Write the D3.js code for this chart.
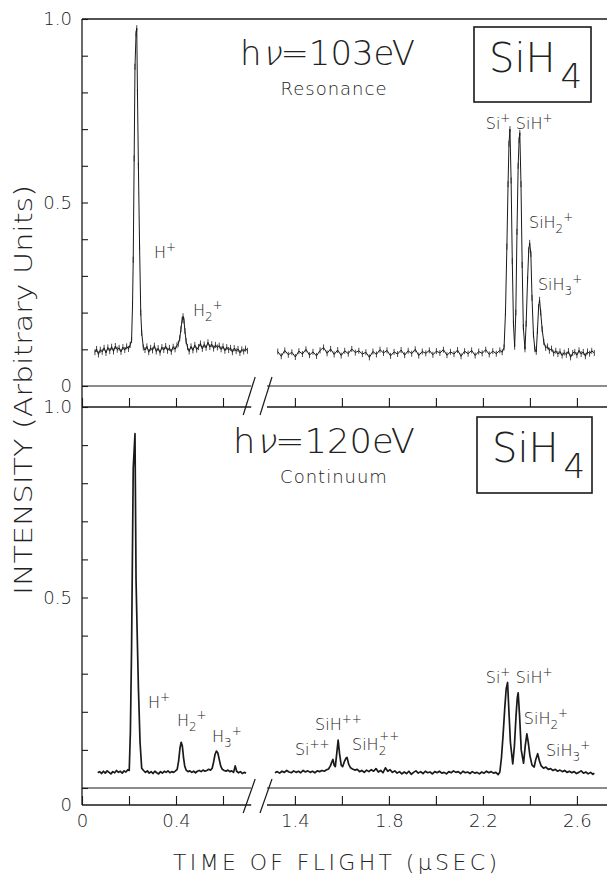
<!DOCTYPE html>
<html>
<head>
<meta charset="utf-8">
<script src="https://cdn.jsdelivr.net/npm/d3@7"></script>
<style>
  body { margin: 0; background: #fff; }
  svg { display: block; }
  text { font-family: "DejaVu Sans ExtraLight", "DejaVu Sans Light", "DejaVu Sans", sans-serif; font-weight: 200; fill: #222; }
</style>
</head>
<body>
<svg id="chart" width="607" height="876"></svg>
<script>
// [time (usec), intensity], one trace per panel half
const topLowTrace = [
  [0.055,0.092],[0.062,0.101],[0.070,0.086],[0.078,0.099],[0.086,0.093],[0.094,0.104],[0.102,0.090],[0.110,0.105],
  [0.118,0.095],[0.126,0.107],[0.134,0.094],[0.142,0.109],[0.150,0.099],[0.158,0.104],[0.166,0.093],[0.174,0.106],
  [0.182,0.098],[0.190,0.108],[0.198,0.101],[0.205,0.112],[0.211,0.125],[0.215,0.22],[0.218,0.344],[0.222,0.62],
  [0.2255,0.87],[0.230,0.96],[0.233,0.975],[0.236,0.80],[0.240,0.60],[0.245,0.38],[0.250,0.20],[0.254,0.145],
  [0.261,0.105],[0.268,0.098],[0.276,0.108],[0.284,0.092],[0.292,0.104],[0.300,0.097],[0.308,0.110],[0.316,0.094],
  [0.324,0.103],[0.332,0.091],[0.340,0.106],[0.348,0.098],[0.356,0.109],[0.364,0.096],[0.372,0.104],[0.380,0.093],
  [0.388,0.107],[0.396,0.100],[0.404,0.111],[0.410,0.115],[0.416,0.13],[0.421,0.155],[0.426,0.18],[0.430,0.19],
  [0.434,0.178],[0.438,0.15],[0.443,0.122],[0.449,0.106],[0.456,0.094],[0.464,0.108],[0.472,0.097],[0.480,0.112],
  [0.488,0.099],[0.496,0.106],[0.504,0.116],[0.512,0.101],[0.520,0.113],[0.528,0.104],[0.536,0.119],[0.544,0.106],
  [0.552,0.114],[0.560,0.102],[0.568,0.112],[0.576,0.105],[0.584,0.110],[0.592,0.100],[0.600,0.108],[0.608,0.096],
  [0.616,0.106],[0.624,0.098],[0.632,0.104],[0.640,0.092],[0.648,0.103],[0.656,0.095],[0.664,0.101],[0.672,0.090],
  [0.680,0.100],[0.688,0.094],[0.696,0.102],[0.704,0.096]
];
const topHighTrace = [
  [1.327,.094],[1.342,.081],[1.357,.097],[1.372,.085],[1.387,.092],[1.402,.079],[1.417,.095],[1.432,.087],
  [1.447,.100],[1.462,.084],[1.477,.093],[1.492,.082],[1.507,.097],[1.522,.105],[1.537,.089],[1.552,.101],
  [1.567,.086],[1.582,.098],[1.597,.083],[1.612,.096],[1.627,.088],[1.642,.101],[1.657,.091],[1.672,.096],
  [1.687,.087],[1.702,.092],[1.717,.078],[1.732,.094],[1.747,.086],[1.762,.099],[1.777,.090],[1.792,.097],
  [1.807,.082],[1.822,.093],[1.837,.087],[1.852,.098],[1.867,.084],[1.882,.096],[1.897,.088],[1.912,.100],
  [1.927,.083],[1.942,.094],[1.957,.089],[1.972,.097],[1.987,.085],[2.002,.095],[2.017,.090],[2.032,.099],
  [2.047,.084],[2.062,.093],[2.077,.087],[2.092,.098],[2.107,.081],[2.122,.095],[2.137,.088],[2.152,.097],
  [2.167,.083],[2.182,.094],[2.197,.089],[2.212,.099],[2.227,.086],[2.242,.095],[2.257,.088],[2.272,.097],
  [2.282,.092],[2.290,.105],[2.296,.20],[2.302,.38],[2.307,.55],[2.311,.66],[2.315,.70],[2.320,.56],
  [2.325,.34],[2.330,.17],[2.335,.107],[2.340,.20],[2.345,.42],[2.350,.60],[2.354,.67],[2.357,.69],
  [2.362,.55],[2.367,.33],[2.372,.16],[2.379,.10],[2.384,.17],[2.390,.29],[2.395,.37],[2.399,.39],
  [2.404,.36],[2.409,.24],[2.415,.14],[2.421,.10],[2.427,.093],[2.432,.15],[2.437,.215],[2.441,.235],
  [2.446,.20],[2.452,.155],[2.459,.12],[2.467,.104],[2.475,.108],[2.483,.096],[2.492,.102],[2.501,.089],
  [2.510,.096],[2.519,.087],[2.528,.094],[2.537,.083],[2.546,.091],[2.555,.085],[2.564,.095],[2.573,.078],
  [2.582,.090],[2.591,.093],[2.600,.084],[2.609,.097],[2.618,.087],[2.627,.093],[2.636,.081],[2.645,.094],
  [2.654,.088],[2.663,.096],[2.674,.090]
];
const botLowTrace = [
  [0.067,.040],[0.075,.043],[0.083,.038],[0.091,.044],[0.099,.039],[0.107,.045],[0.115,.041],[0.123,.037],
  [0.131,.043],[0.139,.040],[0.147,.046],[0.155,.041],[0.163,.044],[0.171,.039],[0.179,.045],[0.187,.042],
  [0.195,.048],[0.201,.046],[0.206,.15],[0.211,.37],[0.218,.84],[0.2255,.93],[0.230,.545],[0.235,.40],
  [0.240,.264],[0.247,.12],[0.254,.052],[0.262,.046],[0.270,.041],[0.278,.045],[0.286,.039],[0.294,.043],
  [0.302,.038],[0.310,.044],[0.318,.040],[0.326,.037],[0.334,.043],[0.342,.039],[0.350,.044],[0.358,.041],
  [0.366,.045],[0.374,.040],[0.382,.043],[0.390,.041],[0.398,.045],[0.405,.049],[0.411,.07],[0.417,.105],
  [0.422,.12],[0.427,.11],[0.432,.08],[0.437,.058],[0.443,.047],[0.451,.043],[0.459,.045],[0.467,.041],
  [0.475,.044],[0.483,.040],[0.491,.044],[0.499,.046],[0.507,.043],[0.515,.047],[0.523,.044],[0.531,.046],
  [0.539,.049],[0.547,.047],[0.554,.052],[0.560,.068],[0.566,.088],[0.572,.097],[0.578,.092],[0.584,.075],
  [0.590,.058],[0.597,.049],[0.605,.046],[0.613,.044],[0.621,.047],[0.629,.043],[0.637,.045],[0.645,.041],
  [0.652,.058],[0.658,.044],[0.666,.040],[0.674,.043],[0.682,.038],[0.690,.041],[0.698,.039]
];
const botHighTrace = [
  [1.315,.040],[1.325,.043],[1.335,.039],[1.345,.044],[1.355,.041],[1.365,.046],[1.375,.042],[1.385,.040],
  [1.395,.045],[1.405,.041],[1.415,.044],[1.425,.040],[1.435,.046],[1.445,.042],[1.455,.045],[1.465,.041],
  [1.475,.044],[1.485,.040],[1.495,.045],[1.505,.043],[1.515,.046],[1.525,.044],[1.535,.048],[1.543,.050],
  [1.551,.058],[1.557,.068],[1.562,.075],[1.567,.060],[1.572,.056],[1.578,.090],[1.584,.126],[1.590,.09],
  [1.597,.060],[1.603,.056],[1.611,.070],[1.617,.078],[1.622,.080],[1.629,.062],[1.637,.053],[1.645,.050],
  [1.655,.047],[1.665,.049],[1.675,.043],
  [1.685,.046],[1.695,.041],[1.705,.047],[1.715,.043],[1.725,.048],[1.735,.044],[1.745,.051],[1.755,.042],
  [1.765,.046],[1.775,.040],[1.785,.053],[1.795,.044],[1.805,.048],[1.815,.041],[1.825,.045],[1.835,.039],
  [1.845,.043],[1.855,.037],[1.865,.042],[1.875,.038],[1.885,.044],[1.895,.036],[1.905,.041],[1.915,.045],
  [1.925,.039],[1.935,.043],[1.945,.038],[1.955,.044],[1.965,.040],[1.975,.042],[1.985,.037],[1.995,.043],
  [2.005,.040],[2.015,.044],[2.025,.039],[2.035,.041],[2.045,.037],[2.055,.043],[2.065,.040],[2.075,.045],
  [2.085,.041],[2.095,.043],[2.105,.038],[2.115,.044],[2.125,.040],[2.135,.042],[2.145,.038],[2.155,.043],
  [2.165,.039],[2.175,.041],[2.185,.037],[2.195,.042],[2.205,.039],[2.215,.044],[2.225,.040],[2.235,.043],
  [2.245,.039],[2.255,.041],[2.265,.035],[2.272,.042],[2.279,.08],[2.286,.14],[2.293,.21],[2.299,.26],
  [2.305,.277],[2.310,.21],[2.317,.12],[2.327,.063],[2.334,.11],[2.341,.19],[2.346,.235],[2.350,.25],
  [2.356,.19],[2.363,.10],[2.373,.065],[2.380,.11],[2.387,.142],[2.393,.12],[2.400,.085],[2.409,.06],
  [2.418,.055],[2.425,.075],[2.433,.09],[2.440,.072],[2.448,.058],[2.458,.052],[2.468,.055],[2.478,.049],
  [2.488,.051],[2.498,.046],[2.508,.049],[2.518,.044],[2.528,.047],[2.538,.043],[2.548,.046],[2.558,.041],
  [2.568,.044],[2.578,.040],[2.588,.043],[2.598,.038],[2.608,.041],[2.618,.045],[2.628,.039],[2.638,.042],
  [2.648,.037],[2.658,.041],[2.668,.036],[2.674,.039]
];

// ion labels, anchored in data units (time, intensity)
const topIons = [
  { base: 'H', sub: '', sup: '+', t: 0.306, v: 0.349 },
  { base: 'H', sub: '2', sup: '+', t: 0.472, v: 0.191 },
  { base: 'Si', sub: '', sup: '+', t: 2.212, v: 0.70 },
  { base: 'SiH', sub: '', sup: '+', t: 2.34, v: 0.70 },
  { base: 'SiH', sub: '2', sup: '+', t: 2.396, v: 0.43 },
  { base: 'SiH', sub: '3', sup: '+', t: 2.434, v: 0.262 }
];
const botIons = [
  { base: 'H', sub: '', sup: '+', t: 0.281, v: 0.21 },
  { base: 'H', sub: '2', sup: '+', t: 0.404, v: 0.163 },
  { base: 'H', sub: '3', sup: '+', t: 0.553, v: 0.121 },
  { base: 'Si', sub: '', sup: '++', t: 1.400, v: 0.087 },
  { base: 'SiH', sub: '', sup: '++', t: 1.486, v: 0.152 },
  { base: 'SiH', sub: '2', sup: '++', t: 1.643, v: 0.100, stack: true },
  { base: 'Si', sub: '', sup: '+', t: 2.212, v: 0.276 },
  { base: 'SiH', sub: '', sup: '+', t: 2.34, v: 0.276 },
  { base: 'SiH', sub: '2', sup: '+', t: 2.374, v: 0.168 },
  { base: 'SiH', sub: '3', sup: '+', t: 2.468, v: 0.084 }
];

const yTicks = d3.range(0, 10.5).map(i => i / 10);
const lowTicks = [0, 0.2, 0.4, 0.6];
const highTicks = [1.4, 1.6, 1.8, 2.0, 2.2, 2.4, 2.6];
const xLabelled = [0, 0.4, 1.4, 1.8, 2.2, 2.6];

const svg = d3.select('#chart');
svg.append('rect').attr('width', 607).attr('height', 876).attr('fill', '#fff');

// broken time axis: two linear pieces with the same scale factor
const xLow = d3.scaleLinear().domain([0, 0.72]).range([82, 251.2]);
const xHigh = d3.scaleLinear().domain([1.26, 2.728]).range([262, 607]);
const yTop = d3.scaleLinear().domain([0, 1]).range([386, 19]);
const yBot = d3.scaleLinear().domain([0, 1]).range([788, 407]);
const plotLeft = 82, plotRight = 607;
const topAxisY = 407, botAxisY = 805;
const ink = '#1a1a1a';

// frame: top edge and left edge
svg.append('line').attr('x1', plotLeft).attr('x2', plotRight).attr('y1', yTop(1)).attr('y2', yTop(1))
  .attr('stroke', ink).attr('stroke-width', 1.3);
svg.append('line').attr('x1', plotLeft).attr('x2', plotLeft).attr('y1', yTop(1)).attr('y2', botAxisY)
  .attr('stroke', ink).attr('stroke-width', 1.3);

// horizontal lines interrupted at the break
function brokenLine(y, w) {
  svg.append('line').attr('x1', plotLeft).attr('x2', xLow.range()[1]).attr('y1', y).attr('y2', y)
    .attr('stroke', ink).attr('stroke-width', w);
  svg.append('line').attr('x1', xHigh.range()[0] + 5).attr('x2', plotRight).attr('y1', y).attr('y2', y)
    .attr('stroke', ink).attr('stroke-width', w);
}
function breakMarks(y1, y2) {
  const a = xLow.range()[1], b = xHigh.range()[0];
  [[a + 4, a - 8], [b + 10, b - 2]].forEach(([xt, xb]) => {
    svg.append('line').attr('x1', xt).attr('y1', y1 - 9).attr('x2', xb).attr('y2', y2 + 8)
      .attr('stroke', ink).attr('stroke-width', 1.2);
  });
}
brokenLine(yTop(0), 1.1);
brokenLine(topAxisY, 1.4);
breakMarks(yTop(0), topAxisY);
brokenLine(yBot(0), 1.1);
brokenLine(botAxisY, 1.4);
breakMarks(yBot(0), botAxisY);

// time ticks, pointing up, on both axis lines
function timeAxis(y, withLabels) {
  const fmt = d => (withLabels && xLabelled.includes(d)) ? (d === 0 ? '0' : d3.format('.1f')(d)) : '';
  [[xLow, lowTicks], [xHigh, highTicks]].forEach(([sc, tv]) => {
    const g = svg.append('g').attr('transform', `translate(0,${y})`)
      .call(d3.axisBottom(sc).tickValues(tv).tickSizeInner(-9).tickSizeOuter(0).tickPadding(9).tickFormat(fmt));
    g.select('.domain').remove();
    g.selectAll('line').attr('stroke', ink).attr('stroke-width', 1.1);
    g.selectAll('text').style('font-size', '18px').attr('dy', '0.71em');
  });
}
timeAxis(topAxisY, false);
timeAxis(botAxisY, true);

// intensity ticks, pointing in
function intensityAxis(sc, labels) {
  const g = svg.append('g').attr('transform', `translate(${plotLeft},0)`)
    .call(d3.axisLeft(sc).tickValues(yTicks).tickSizeInner(-6).tickSizeOuter(0).tickPadding(10)
      .tickFormat(d => labels.includes(d) ? (d === 0 ? '0' : d3.format('.1f')(d)) : ''));
  g.select('.domain').remove();
  g.selectAll('line').attr('stroke', ink).attr('stroke-width', 1.1);
  g.selectAll('text').style('font-size', '18px');
}
intensityAxis(yTop, [0, 0.5, 1]);
intensityAxis(yBot, [0.5, 1]);
svg.append('text').attr('x', plotLeft - 10).attr('y', botAxisY).attr('dy', '0.32em')
  .attr('text-anchor', 'end').style('font-size', '18px').text('0');

// traces
function trace(data, x, y, w) {
  svg.append('path').datum(data)
    .attr('d', d3.line().x(d => x(d[0])).y(d => y(d[1])))
    .attr('fill', 'none').attr('stroke', ink).attr('stroke-width', w).attr('stroke-linejoin', 'round');
}
// the resonance scan carries small counting error bars
function errorBars(data, x, y) {
  svg.append('g').selectAll('line').data(data).join('line')
    .attr('x1', d => x(d[0])).attr('x2', d => x(d[0]))
    .attr('y1', d => y(d[1]) - 3).attr('y2', d => y(d[1]) + 3)
    .attr('stroke', ink).attr('stroke-width', 0.8);
}
trace(topLowTrace, xLow, yTop, 1.0);
trace(topHighTrace, xHigh, yTop, 1.0);
errorBars(topLowTrace, xLow, yTop);
errorBars(topHighTrace, xHigh, yTop);
trace(botLowTrace, xLow, yBot, 1.7);
trace(botHighTrace, xHigh, yBot, 1.7);

// ion labels
function ionLabels(list, y) {
  list.forEach(d => {
    const x = d.t < 1 ? xLow(d.t) : xHigh(d.t);
    const t = svg.append('text').attr('x', x).attr('y', y(d.v)).style('font-size', '16px');
    t.append('tspan').text(d.base);
    let lift = 0;
    if (d.sub) {
      t.append('tspan').attr('dy', 5).style('font-size', '12px').text(d.sub);
      lift = 5;
    }
    t.append('tspan').attr('dy', -(lift + (d.stack ? 10 : 7))).attr('dx', d.stack ? -7 : 0)
      .style('font-size', '12px').text(d.sup);
  });
}
ionLabels(topIons, yTop);
ionLabels(botIons, yBot);

// photon energy captions and molecule boxes
function caption(energy, regime, yMain, ySub, xMain) {
  const t = svg.append('text').attr('x', xMain).attr('y', yMain).style('font-size', '34px')
    .attr('textLength', 415 - xMain).attr('lengthAdjust', 'spacingAndGlyphs');
  t.append('tspan').text('h');
  t.append('tspan').style('font-style', 'italic').text('\u03BD');
  t.append('tspan').text(`=${energy}eV`);
  svg.append('text').attr('x', 334).attr('y', ySub).attr('text-anchor', 'middle').style('font-size', '18px')
    .attr('letter-spacing', 1).text(regime);
}
caption(103, 'Resonance', 65, 95, 240);
caption(120, 'Continuum', 453, 483, 233);

function moleculeBox(x0, y0, x1, y1) {
  svg.append('rect').attr('x', x0).attr('y', y0).attr('width', x1 - x0).attr('height', y1 - y0)
    .attr('fill', 'none').attr('stroke', ink).attr('stroke-width', 1.6);
  const t = svg.append('text').attr('x', x0 + 15).attr('y', y0 + 45).style('font-size', '40px');
  t.append('tspan').text('SiH');
  t.append('tspan').attr('dx', 5).attr('dy', 16).style('font-size', '34px').text('4');
}
moleculeBox(474, 27, 591, 102);
moleculeBox(477, 417, 592, 493);

// axis titles
svg.append('text').attr('transform', 'translate(32,390) rotate(-90)').attr('text-anchor', 'middle')
  .style('font-size', '24px').attr('textLength', 410).attr('lengthAdjust', 'spacingAndGlyphs')
  .text('INTENSITY (Arbitrary Units)');
svg.append('text').attr('x', 335).attr('y', 870).attr('text-anchor', 'middle')
  .style('font-size', '22px').attr('textLength', 324).attr('lengthAdjust', 'spacing')
  .text('TIME OF FLIGHT (\u03BCSEC)');
</script>
</body>
</html>
